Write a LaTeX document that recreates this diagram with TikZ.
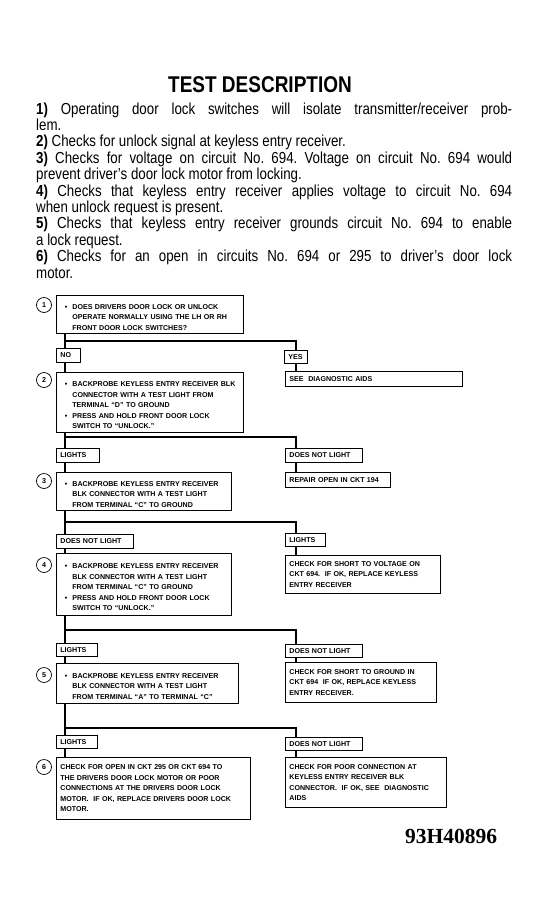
\documentclass[tikz,border=0pt]{standalone}
\usepackage{fontspec}
\setmainfont{Liberation Sans}
\newfontfamily\serialfont{Liberation Serif}
\usepackage{graphicx}
\frenchspacing
\newcommand{\boxfont}{\fontsize{7.1}{10.5}\selectfont\bfseries}
\newcommand{\bodyfont}{\fontsize{13.3}{13.67}\selectfont}
\newcommand{\bitem}{\par\leavevmode\llap{\textbullet\hspace{5pt}}}
\newcommand{\jline}[1]{\makebox[\linewidth][s]{#1}\par}

\begin{document}
\begin{tikzpicture}[x=1pt,y=-1pt,
  stepbox/.style={draw,line width=0.8pt,anchor=north west,align=left,
    inner xsep=4pt,inner ysep=2pt,font=\boxfont,text width=#1},
  tagbox/.style={stepbox=#1,minimum height=14pt},
  num/.style={circle,draw,line width=0.7pt,minimum size=15pt,inner sep=0pt,font=\boxfont},
  conn/.style={line width=2.6pt}]
  \useasboundingbox (0,0) rectangle (548,916);

  % heading and notes
  \node[anchor=base,inner sep=0pt,font=\bfseries\fontsize{19}{19}\selectfont] (title) at (260,92)
    {\scalebox{1}[1.2]{TEST DESCRIPTION}};
  \node[anchor=base west,inner sep=0pt,font=\bodyfont] (notes) at (36,114) {\scalebox{1}[1.2]{\parbox[t]{476pt}{%
    \jline{\textbf{1)} Operating door lock switches will isolate transmitter/receiver prob-}
    lem.\par
    \textbf{2)} Checks for unlock signal at keyless entry receiver.\par
    \jline{\textbf{3)} Checks for voltage on circuit No. 694. Voltage on circuit No. 694 would}
    prevent driver's door lock motor from locking.\par
    \jline{\textbf{4)} Checks that keyless entry receiver applies voltage to circuit No. 694}
    when unlock request is present.\par
    \jline{\textbf{5)} Checks that keyless entry receiver grounds circuit No. 694 to enable}
    a lock request.\par
    \jline{\textbf{6)} Checks for an open in circuits No. 694 or 295 to driver's door lock}
    motor.}}};

  % steps (left column)
  \node[stepbox=179pt,minimum height=38pt] (q1) at (56,295) {\leftskip=12pt
    \bitem DOES DRIVERS DOOR LOCK OR UNLOCK\\ OPERATE NORMALLY USING THE LH OR RH\\ FRONT DOOR LOCK SWITCHES?\par};
  \node[stepbox=179pt,minimum height=60pt] (q2) at (56,372) {\leftskip=12pt
    \bitem BACKPROBE KEYLESS ENTRY RECEIVER BLK\\ CONNECTOR WITH A TEST LIGHT FROM\\ TERMINAL ``D'' TO GROUND
    \bitem PRESS AND HOLD FRONT DOOR LOCK\\ SWITCH TO ``UNLOCK.''\par};
  \node[stepbox=167pt,minimum height=38pt] (q3) at (56,472) {\leftskip=12pt
    \bitem BACKPROBE KEYLESS ENTRY RECEIVER\\ BLK CONNECTOR WITH A TEST LIGHT\\ FROM TERMINAL ``C'' TO GROUND\par};
  \node[stepbox=167pt,minimum height=62pt] (q4) at (56,553) {\leftskip=12pt
    \bitem BACKPROBE KEYLESS ENTRY RECEIVER\\ BLK CONNECTOR WITH A TEST LIGHT\\ FROM TERMINAL ``C'' TO GROUND
    \bitem PRESS AND HOLD FRONT DOOR LOCK\\ SWITCH TO ``UNLOCK.''\par};
  \node[stepbox=174pt,minimum height=40pt] (q5) at (56,663) {\leftskip=12pt
    \bitem BACKPROBE KEYLESS ENTRY RECEIVER\\ BLK CONNECTOR WITH A TEST LIGHT\\ FROM TERMINAL ``A'' TO TERMINAL ``C''\par};
  \node[stepbox=186pt,minimum height=62pt] (q6) at (56,757) {CHECK FOR OPEN IN CKT 295 OR CKT 694 TO\\
    THE DRIVERS DOOR LOCK MOTOR OR POOR\\ CONNECTIONS AT THE DRIVERS DOOR LOCK\\
    MOTOR.\ \ IF OK, REPLACE DRIVERS DOOR LOCK\\ MOTOR.};

  \node[num] (c1) at (44,305) {1};
  \node[num] (c2) at (44,380) {2};
  \node[num] (c3) at (44,481) {3};
  \node[num] (c4) at (44,565) {4};
  \node[num] (c5) at (44,675) {5};
  \node[num] (c6) at (44,767) {6};

  % answers
  \node[tagbox=16pt] (l1) at (56,348) {NO};
  \node[tagbox=15pt,minimum height=13pt] (r1) at (284,350) {YES};
  \node[tagbox=35pt] (l2) at (56,448) {LIGHTS};
  \node[tagbox=69pt] (r2) at (285,448) {DOES NOT LIGHT};
  \node[tagbox=69pt] (l3) at (56,534) {DOES NOT LIGHT};
  \node[tagbox=32pt,minimum height=13pt] (r3) at (285,533) {LIGHTS};
  \node[tagbox=33pt,minimum height=13pt] (l4) at (56,643) {LIGHTS};
  \node[tagbox=69pt,minimum height=13pt] (r4) at (285,644) {DOES NOT LIGHT};
  \node[tagbox=33pt,minimum height=13pt] (l5) at (56,735) {LIGHTS};
  \node[tagbox=69pt,minimum height=13pt] (r5) at (285,737) {DOES NOT LIGHT};

  % results (right column)
  \node[stepbox=169pt,minimum height=15pt] (a1) at (285,371) {SEE\ \ DIAGNOSTIC AIDS};
  \node[stepbox=97pt,minimum height=15pt] (a2) at (285,472) {REPAIR OPEN IN CKT 194};
  \node[stepbox=147pt,minimum height=38pt] (a3) at (285,555) {CHECK FOR SHORT TO VOLTAGE ON\\
    CKT 694.\ \ IF OK, REPLACE KEYLESS\\ ENTRY RECEIVER};
  \node[stepbox=143pt,minimum height=40pt] (a4) at (285,662) {CHECK FOR SHORT TO GROUND IN\\
    CKT 694\ \ IF OK, REPLACE KEYLESS\\ ENTRY RECEIVER.};
  \node[stepbox=153pt,minimum height=50pt] (a5) at (285,757) {CHECK FOR POOR CONNECTION AT\\
    KEYLESS ENTRY RECEIVER BLK\\ CONNECTOR.\ \ IF OK, SEE\ \ DIAGNOSTIC\\ AIDS};

  % connectors
  \foreach \i/\yy in {1/341,2/437,3/522,4/630,5/728}{
    \pgfmathtruncatemacro{\nx}{\i+1}
    \coordinate (j\i) at (65,\yy);
    \coordinate (k\i) at (296,\yy);
    \draw[conn] (q\i.south -| j\i) -- (l\i.north -| j\i);
    \draw[conn] (j\i) -- (k\i) -- (r\i.north -| k\i);
    \draw[conn] (l\i.south -| j\i) -- (q\nx.north -| j\i);
    \draw[conn] (r\i.south -| k\i) -- (a\i.north -| k\i);
  }

  \node[anchor=base west,inner sep=0pt,font=\serialfont\bfseries\fontsize{21.5}{21.5}\selectfont] (fig) at (405,843) {93H40896};
\end{tikzpicture}
\end{document}
